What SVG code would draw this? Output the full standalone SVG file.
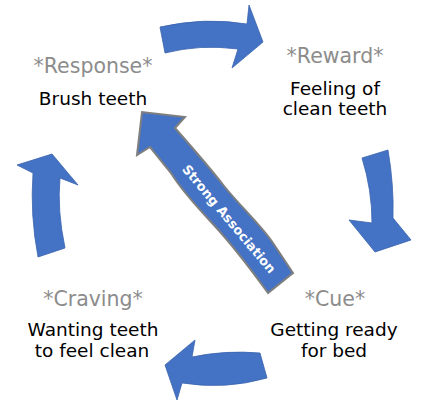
<svg xmlns="http://www.w3.org/2000/svg" width="429" height="415" viewBox="0 0 429 415">
<style>
.arr{fill:#4472C4;stroke:#3a63ad;stroke-width:0.8;stroke-linejoin:miter}
.big{fill:#4472C4;stroke:#7f7f7f;stroke-width:2;stroke-linejoin:miter}
.stage{font-family:"DejaVu Sans","Liberation Sans",sans-serif;font-size:20.5px;fill:#8c8c8c;text-anchor:middle}
.desc{font-family:"DejaVu Sans","Liberation Sans",sans-serif;font-size:18.5px;fill:#000;text-anchor:middle}
.assoc{font-family:"DejaVu Sans","Liberation Sans",sans-serif;font-size:13px;font-weight:bold;fill:#fff;text-anchor:middle}
</style>
<rect width="429" height="415" fill="#fff"/>
<g id="connectors">
<path class="arr" d="M160,27 Q205,17 247,24 L249,5 L263,42 L232,68 L238,49 Q200,44 165,53 Z"/>
<path class="arr" d="M362,158 L388,150 Q394,185 393,218 L411,240 L375,252 L349,220 L372,223 Q372,190 362,158 Z"/>
<path class="arr" d="M260,353 L267,378 Q225,390 182,383 L177,400 L165,365 L195,340 L192,357 Q225,350 260,353 Z"/>
<path class="arr" d="M38,257 L65,248 Q57,210 60,178 L78,185 L52,154 L17,165 L33,173 Q30,215 38,257 Z"/>
</g>
<g id="association">
<path class="big" d="M268,293 C250,268 226,238 212,223 C198,208 180,188 171,173 L150,147 L137,155 L142,112 L185,117 L175,128 C190,145 210,168 224,186 C240,206 262,226 273,243 L293,273 Z"/>
<text class="assoc" transform="translate(229,219) rotate(50)" textLength="137" lengthAdjust="spacingAndGlyphs" y="4.5">Strong Association</text>
</g>
<g id="reward">
<text class="stage" x="335" y="63">*Reward*</text>
<text class="desc" x="335" y="95">Feeling of</text>
<text class="desc" x="335" y="115">clean teeth</text>
</g>
<g id="response">
<text class="stage" x="93" y="73">*Response*</text>
<text class="desc" x="93" y="105">Brush teeth</text>
</g>
<g id="craving">
<text class="stage" x="93" y="306">*Craving*</text>
<text class="desc" x="93" y="336">Wanting teeth</text>
<text class="desc" x="92" y="357">to feel clean</text>
</g>
<g id="cue">
<text class="stage" x="335" y="306">*Cue*</text>
<text class="desc" x="334" y="336">Getting ready</text>
<text class="desc" x="334" y="357">for bed</text>
</g>
</svg>
